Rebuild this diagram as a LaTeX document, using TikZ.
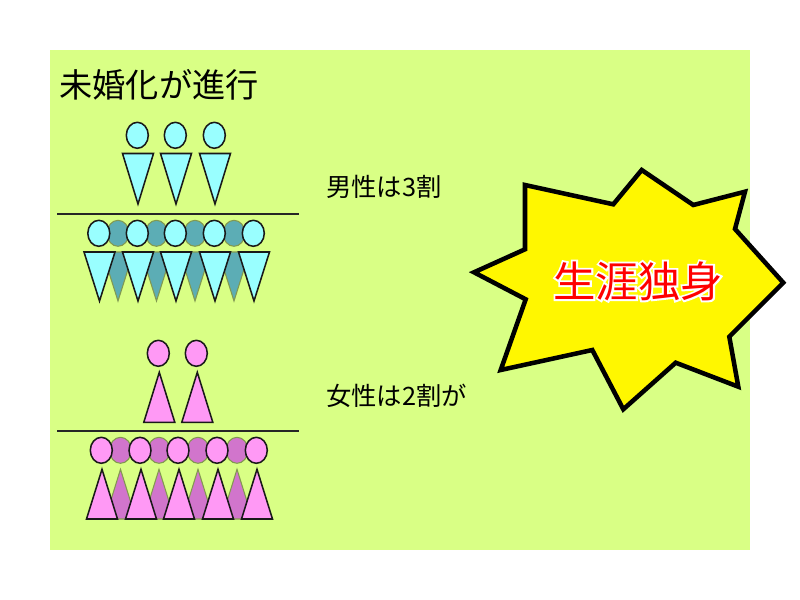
\documentclass[tikz,border=0pt]{standalone}
\usepackage{fontspec}
\setmainfont{Noto Sans CJK JP}
\newfontfamily\glowfont[FakeBold=9]{Noto Sans CJK JP}
\definecolor{panelC}{HTML}{D9FF85}
\definecolor{manC}{HTML}{99FFFF}
\definecolor{manD}{HTML}{5CADB5}
\definecolor{womanC}{HTML}{FF99F5}
\definecolor{womanD}{HTML}{D175CC}
\definecolor{burstC}{HTML}{FFF700}
\begin{document}
\begin{tikzpicture}[x=0.75pt, y=-0.75pt, line join=miter]
  \tikzset{
    figfront/.style={draw=black!90, line width=1.15pt},
    figback/.style={draw=black!40!panelC, line width=0.8pt},
    rulebar/.style={draw=black!85, line width=1.4pt},
    plaintext/.style={inner sep=0pt, font=\fontsize{19pt}{22pt}\selectfont}
  }
  \useasboundingbox (0,0) rectangle (800,600);
  \fill[white] (0,0) rectangle (800,600);
  \fill[panelC] (50,50) rectangle (750,550);
  % titel
  \node[inner sep=0pt, font=\fontsize{24.9pt}{28pt}\selectfont] (title) at (159,85) {未婚化が進行};
  % mannen boven
  \foreach \hx/\bx in {137.3/138, 175.3/176, 214.3/215} {
    \draw[figfront, fill=manC] (\hx,135.3) ellipse (11 and 13);
    \draw[figfront, fill=manC] (\bx-15.5,153.5) -- (\bx+15.5,153.5) -- (\bx,204) -- cycle;
  }
  \coordinate (ruleAl) at (57,213.7);
  \coordinate (ruleAr) at (299,213.7);
  \draw[rulebar] (ruleAl) -- (ruleAr);
  % mannen onder
  \foreach \hx in {118,156.5,195,234} {
    \draw[figback, fill=manD] (\hx-15.5,252) -- (\hx+15.5,252) -- (\hx,301) -- cycle;
    \draw[figback, fill=manD] (\hx,233.3) ellipse (11 and 13);
  }
  \foreach \hx/\bx in {98.8/99.5, 137.3/138, 175.3/176, 214.3/215, 253.3/254} {
    \draw[figfront, fill=manC] (\hx,233.3) ellipse (11 and 13);
    \draw[figfront, fill=manC] (\bx-15.5,252) -- (\bx+15.5,252) -- (\bx,301) -- cycle;
  }
  % vrouwen boven
  \foreach \hx/\bx in {158.3/159.3, 196.3/197.3} {
    \draw[figfront, fill=womanC] (\hx,353.3) ellipse (11 and 13);
    \draw[figfront, fill=womanC] (\bx-15.5,422.3) -- (\bx+15.5,422.3) -- (\bx,372.3) -- cycle;
  }
  \coordinate (ruleBl) at (57,430.7);
  \coordinate (ruleBr) at (299,430.7);
  \draw[rulebar] (ruleBl) -- (ruleBr);
  % vrouwen onder
  \foreach \hx in {120.5,159,198,237} {
    \draw[figback, fill=womanD] (\hx-15.5,519) -- (\hx+15.5,519) -- (\hx,469.3) -- cycle;
    \draw[figback, fill=womanD] (\hx,450.3) ellipse (11 and 13);
  }
  \foreach \hx/\bx in {101.3/102, 140/141, 178/179, 217/218, 256.3/257} {
    \draw[figfront, fill=womanC] (\hx,450.3) ellipse (11 and 13);
    \draw[figfront, fill=womanC] (\bx-15.5,519) -- (\bx+15.5,519) -- (\bx,469.3) -- cycle;
  }
  % tekst
  \node[plaintext, anchor=west] (mantext) at (326,187) {男性は3割};
  \node[plaintext, anchor=west] (womantext) at (326,396) {女性は2割が};
  % ster
  \draw[draw=black, line width=3.4pt, fill=burstC] (525,185) -- (613.3,204.3) -- (641.7,170) -- (693.3,205)
    -- (745,191.7) -- (735,229) -- (783.3,282.7) -- (729.3,336.7) -- (738.3,386.7) -- (675.7,362.7)
    -- (623.3,409.3) -- (592.3,350) -- (500.7,370) -- (525.7,299.3) -- (474,272.3) -- (525,249.3) -- cycle;
  \node[inner sep=0pt, text=white, font=\glowfont\fontsize{31.8pt}{36pt}\selectfont] (burstglow) at (638,281) {生涯独身};
  \node[inner sep=0pt, text=red, font=\fontsize{31.8pt}{36pt}\selectfont] (burst) at (638,281) {生涯独身};
\end{tikzpicture}
\end{document}
